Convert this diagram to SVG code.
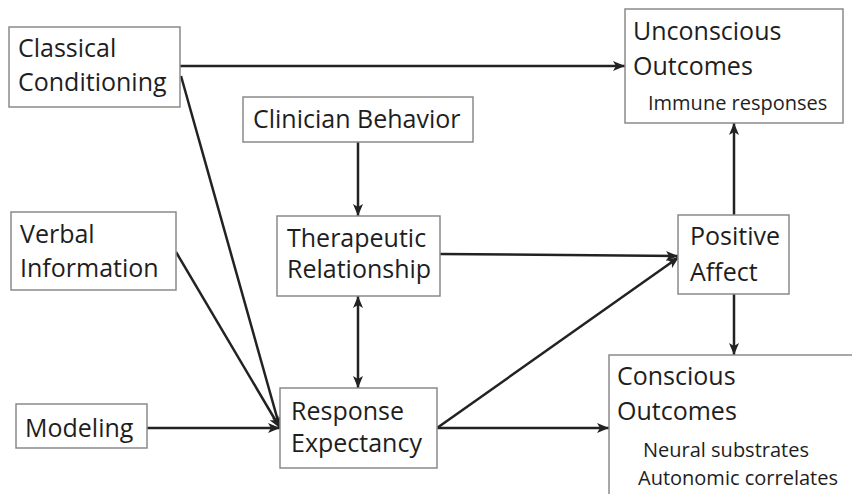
<svg xmlns="http://www.w3.org/2000/svg" width="852" height="494" viewBox="0 0 852 494">
<style>
.box{fill:#fff;stroke:#8a8a8a;stroke-width:1.5}
.t{font-family:"Open Sans","Liberation Sans",sans-serif;font-size:25px;fill:#1e1e1e}
.s{font-family:"Open Sans","Liberation Sans",sans-serif;font-size:20px;fill:#1e1e1e}
.c{stroke:#222;stroke-width:2.5;fill:none;marker-end:url(#ah)}
.bi{marker-start:url(#ahs)}
</style>
<defs>
<marker id="ah" markerUnits="userSpaceOnUse" markerWidth="14" markerHeight="12" refX="12" refY="6" orient="auto">
<path d="M0,1 L12,6 L0,11 L3,6 Z" fill="#222"/>
</marker>
<marker id="ahs" markerUnits="userSpaceOnUse" markerWidth="14" markerHeight="12" refX="0" refY="6" orient="auto">
<path d="M12,1 L0,6 L12,11 L9,6 Z" fill="#222"/>
</marker>
</defs>
<rect width="852" height="494" fill="#fff"/>
<g id="connectors">
<line class="c" x1="180" y1="66" x2="625" y2="66"/>
<line class="c" x1="181" y1="76" x2="280" y2="428"/>
<line class="c" x1="176" y1="252" x2="280" y2="428"/>
<line class="c" x1="147" y1="428" x2="280" y2="428"/>
<line class="c" x1="358" y1="142" x2="358" y2="216"/>
<line class="c bi" x1="358" y1="296" x2="358" y2="388"/>
<line class="c" x1="440" y1="254" x2="678" y2="256"/>
<line class="c" x1="437" y1="428" x2="679" y2="257"/>
<line class="c" x1="437" y1="428" x2="609" y2="428"/>
<line class="c" x1="734" y1="215" x2="734" y2="123"/>
<line class="c" x1="734" y1="294" x2="734" y2="355"/>
</g>
<g id="classical">
<rect class="box" x="9" y="27" width="171" height="80"/>
<text class="t" x="18" y="57">Classical</text>
<text class="t" x="18" y="91">Conditioning</text>
</g>
<g id="unconscious">
<rect class="box" x="625" y="9" width="218" height="114"/>
<text class="t" x="633" y="40">Unconscious</text>
<text class="t" x="633" y="75">Outcomes</text>
<text class="s" x="648" y="110">Immune responses</text>
</g>
<g id="clinician">
<rect class="box" x="243" y="97" width="230" height="45"/>
<text class="t" x="253" y="128">Clinician Behavior</text>
</g>
<g id="therapeutic">
<rect class="box" x="277" y="216" width="163" height="80"/>
<text class="t" x="287" y="247">Therapeutic</text>
<text class="t" x="287" y="278">Relationship</text>
</g>
<g id="positive">
<rect class="box" x="678" y="215" width="111" height="79"/>
<text class="t" x="690" y="245">Positive</text>
<text class="t" x="690" y="281">Affect</text>
</g>
<g id="verbal">
<rect class="box" x="11" y="212" width="165" height="78"/>
<text class="t" x="20" y="243">Verbal</text>
<text class="t" x="20" y="277">Information</text>
</g>
<g id="modeling">
<rect class="box" x="16" y="404" width="131" height="44"/>
<text class="t" x="25" y="437">Modeling</text>
</g>
<g id="response">
<rect class="box" x="280" y="388" width="157" height="80"/>
<text class="t" x="291" y="420">Response</text>
<text class="t" x="291" y="452">Expectancy</text>
</g>
<g id="conscious">
<rect class="box" x="609" y="355" width="250" height="145"/>
<text class="t" x="617" y="385">Conscious</text>
<text class="t" x="617" y="420">Outcomes</text>
<text class="s" x="643" y="457">Neural substrates</text>
<text class="s" x="638" y="485">Autonomic correlates</text>
</g>
</svg>
